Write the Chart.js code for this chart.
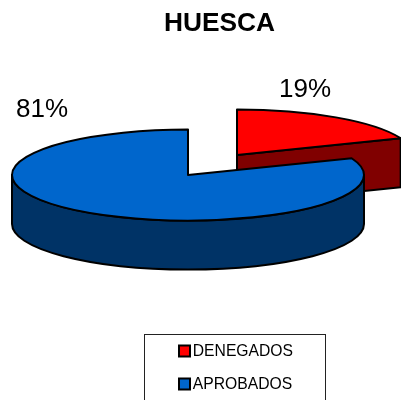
<!DOCTYPE html>
<html>
<head>
<meta charset="utf-8">
<style>
  html, body { margin: 0; padding: 0; background: #fff; overflow: hidden; }
  canvas { display: block; }
</style>
<script src="https://cdn.jsdelivr.net/npm/chart.js@4"></script>
</head>
<body>
<canvas id="pieChart" width="401" height="400"></canvas>
<script>
const chartTitle = 'HUESCA';
const categories = ['DENEGADOS', 'APROBADOS'];
const percents = [19, 81];
const topColors = ['#ff0000', '#0066cc'];
const sideColors = ['#800000', '#003366'];

const FONT = '"Liberation Sans", Arial, sans-serif';
const RADIUS = 176;
const SQUASH = 45.5 / 176;
const DEPTH = 49;
// centro de cada porcion en pantalla (la roja va separada)
const centers = [{ x: 237, y: 155 }, { x: 188, y: 175 }];
const labelSpots = [{ x: 305, y: 90 }, { x: 42, y: 110 }];

// Tarta 3D: angulos y radio salen de los arcos de Chart.js
const pie3d = {
  id: 'pie3d',
  beforeDatasetsDraw(chart) {
    const ctx = chart.ctx;
    const arcs = chart.getDatasetMeta(0).data;
    ctx.save();
    ctx.lineWidth = 2;
    ctx.lineJoin = 'round';
    ctx.strokeStyle = '#000';
    arcs.forEach((arc, i) => {
      const c = centers[i];
      const rx = arc.outerRadius;
      const ry = rx * SQUASH;
      const a0 = arc.startAngle;
      const a1 = arc.endAngle;

      // pared exterior frontal
      const from = Math.max(a0, 0);
      const to = Math.min(a1, Math.PI);
      if (to > from) {
        ctx.beginPath();
        ctx.ellipse(c.x, c.y, rx, ry, 0, from, to);
        ctx.ellipse(c.x, c.y + DEPTH, rx, ry, 0, to, from, true);
        ctx.closePath();
        ctx.fillStyle = sideColors[i];
        ctx.fill();
        ctx.stroke();
      }

      // cara de corte visible
      if (a1 < 0) {
        const ex = c.x + Math.cos(a1) * rx;
        const ey = c.y + Math.sin(a1) * ry;
        ctx.beginPath();
        ctx.moveTo(c.x, c.y);
        ctx.lineTo(ex, ey);
        ctx.lineTo(ex, ey + DEPTH);
        ctx.lineTo(c.x, c.y + DEPTH);
        ctx.closePath();
        ctx.fillStyle = sideColors[i];
        ctx.fill();
        ctx.stroke();
      }

      // cara superior
      ctx.beginPath();
      ctx.moveTo(c.x, c.y);
      ctx.ellipse(c.x, c.y, rx, ry, 0, a0, a1);
      ctx.closePath();
      ctx.fillStyle = topColors[i];
      ctx.fill();
      ctx.stroke();
    });
    ctx.restore();
    return false;
  },
  afterDraw(chart) {
    const ctx = chart.ctx;
    ctx.save();
    ctx.fillStyle = '#000';
    ctx.textAlign = 'center';
    ctx.textBaseline = 'middle';
    ctx.font = 'bold 26.3px ' + FONT;
    ctx.fillText(chartTitle, 219.5, 24);
    ctx.font = '26px ' + FONT;
    percents.forEach((p, i) => {
      ctx.fillText(p + '%', labelSpots[i].x, labelSpots[i].y);
    });
    // marco de la leyenda, abierto por abajo como en el original
    ctx.strokeStyle = '#222';
    ctx.lineWidth = 1;
    ctx.strokeRect(144.5, 334.5, 181, 70);
    // cuadritos de la leyenda: Chart.js deja demasiado hueco hasta el texto
    ctx.lineWidth = 2;
    ctx.strokeStyle = '#000';
    chart.legend.legendHitBoxes.forEach((hit, i) => {
      const y = Math.round(hit.top + hit.height / 2) - 6.5;
      ctx.fillStyle = topColors[i];
      ctx.fillRect(Math.round(hit.left) - 5, y, 11, 11);
      ctx.strokeRect(Math.round(hit.left) - 5, y, 11, 11);
    });
    ctx.restore();
  }
};

new Chart(document.getElementById('pieChart'), {
  type: 'pie',
  data: {
    labels: categories,
    datasets: [{
      data: percents,
      backgroundColor: topColors,
      borderColor: '#000',
      borderWidth: 2
    }]
  },
  options: {
    responsive: false,
    animation: false,
    radius: RADIUS,
    layout: { padding: { right: 98, bottom: -10 } },
    plugins: {
      title: { display: false },
      tooltip: { enabled: false },
      legend: {
        position: 'right',
        align: 'end',
        labels: {
          color: '#000',
          font: { family: FONT, size: 15.7 },
          boxWidth: 1,
          boxHeight: 1,
          padding: 17.3
        }
      }
    }
  },
  plugins: [pie3d]
});
</script>
</body>
</html>
